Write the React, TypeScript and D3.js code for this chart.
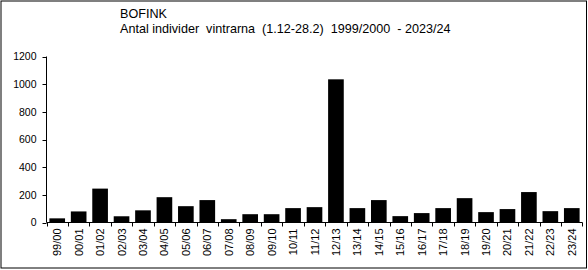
import React from "react";
import * as d3 from "d3";

const categories = ["99/00","00/01","01/02","02/03","03/04","04/05","05/06","06/07","07/08","08/09","09/10","10/11","11/12","12/13","13/14","14/15","15/16","16/17","17/18","18/19","19/20","20/21","21/22","22/23","23/24"];
const values = [30,80,245,45,88,183,118,162,24,60,60,104,111,1035,104,162,46,68,104,176,75,97,220,82,104];
const yTicks = [0,200,400,600,800,1000,1200];
const title1 = "BOFINK";
const title2 = "Antal individer  vintrarna  (1.12-28.2)  1999/2000  - 2023/24";

const W = 588, H = 270;
const left = 46.5, right = 582.5, top = 56.5, bottom = 222.5;

export default function App() {
  const x = d3.scaleBand<string>().domain(categories).range([left, right]).paddingInner(0.27).paddingOuter(0.135);
  const xEdge = d3.scaleBand<string>().domain(categories).range([left, right]);
  const y = d3.scaleLinear().domain([0, 1200]).range([bottom, top]);
  const font = "Arial, 'Liberation Sans', sans-serif";
  return (
    <svg width={W} height={H} style={{ position: "absolute", left: 0, top: 0 }} fontFamily={font}>
      <rect x={0} y={0} width={W} height={H} fill="#fff" />
      <rect x={1} y={1} width={585.5} height={267} fill="none" stroke="#000" strokeWidth={1} />
      <text x={120} y={18} fontSize={12.6} style={{ whiteSpace: "pre" }}>{title1}</text>
      <text x={120} y={33} fontSize={12.6} style={{ whiteSpace: "pre" }}>{title2}</text>
      {values.map((v, i) => (
        <rect key={i} x={x(categories[i])} y={y(v)} width={x.bandwidth()} height={y(0) - y(v)} fill="#000" />
      ))}
      <line x1={left} x2={left} y1={top} y2={bottom} stroke="#000" />
      <line x1={left} x2={right} y1={bottom} y2={bottom} stroke="#000" />
      {yTicks.map((t) => (
        <g key={t}>
          <line x1={left - 4} x2={left} y1={Math.round(y(t)) + 0.5} y2={Math.round(y(t)) + 0.5} stroke="#000" />
          <text x={36.5} y={y(t)} dy="0.35em" fontSize={10.5} textAnchor="end">{t}</text>
        </g>
      ))}
      {categories.map((c) => {
        const xe = Math.round(xEdge(c)!) + 0.5;
        return <line key={c} x1={xe} x2={xe} y1={bottom} y2={bottom + 4} stroke="#000" />;
      })}
      <line x1={right} x2={right} y1={bottom} y2={bottom + 4} stroke="#000" />
      {categories.map((c) => {
        const cx = x(c)! + x.bandwidth() / 2;
        return (
          <text key={c} transform={`translate(${cx + 4},${bottom + 6}) rotate(-90)`} fontSize={11} textAnchor="end">{c}</text>
        );
      })}
    </svg>
  );
}
